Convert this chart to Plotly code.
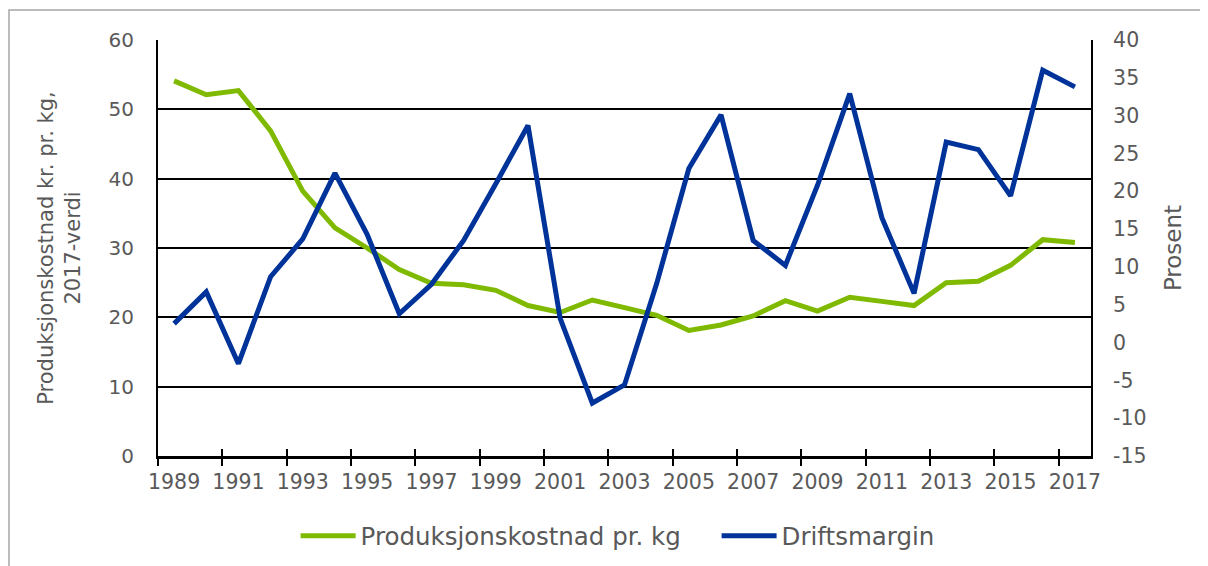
import plotly.graph_objects as go

years = [str(y) for y in range(1989, 2018)]
prod_cost = [54.1, 52.1, 52.7, 46.9, 38.2, 32.9, 30.0, 26.9, 24.9, 24.7, 23.9, 21.7, 20.7, 22.5,
             21.4, 20.3, 18.1, 18.9, 20.2, 22.4, 20.9, 22.9, 22.3, 21.7, 25.0, 25.2, 27.5, 31.2, 30.8]
drift_margin = [2.5, 6.7, -2.8, 8.7, 13.7, 22.4, 14.3, 3.8, 7.7, 13.5, 21.0, 28.7, 3.2, -8.0,
                -5.6, 7.8, 23.0, 30.1, 13.5, 10.2, 20.8, 32.9, 16.5, 6.5, 26.5, 25.5, 19.4, 36.0, 33.8]

left_ticks = [0, 10, 20, 30, 40, 50, 60]
right_ticks = list(range(-15, 45, 5))
right_ticktext = [str(v) for v in right_ticks]

GREEN = "#7FBA00"
BLUE = "#003399"
TXT = "#595959"
FONT = "DejaVu Sans"

fig = go.Figure()
fig.add_trace(go.Scatter(x=years, y=prod_cost, mode="lines", name="Produksjonskostnad pr. kg",
                         line=dict(color=GREEN, width=5), xaxis="x", yaxis="y",
                         legendwidth=351))
fig.add_trace(go.Scatter(x=years, y=drift_margin, mode="lines", name="Driftsmargin",
                         line=dict(color=BLUE, width=5), xaxis="x", yaxis="y2"))
# invisible helper trace for the inside half of the crossing tick marks
fig.add_trace(go.Scatter(x=years, y=prod_cost, mode="lines", showlegend=False, hoverinfo="skip",
                         opacity=0, line=dict(width=0), xaxis="x2", yaxis="y"))

fig.update_layout(
    width=1200, height=558,
    margin=dict(l=150, r=117, t=32, b=110, autoexpand=False),
    paper_bgcolor="white", plot_bgcolor="white",
    font=dict(family=FONT, size=20, color=TXT),
    xaxis=dict(type="category", categoryorder="array", categoryarray=years,
               range=[-0.5, 28.5], dtick=2, tickson="boundaries", tickangle=0,
               ticks="outside", ticklen=7, tickwidth=2, tickcolor="black",
               ticklabelstandoff=5, automargin=False,
               showgrid=False, showline=True, linecolor="black", linewidth=3,
               tickfont=dict(size=20.5, color=TXT), zeroline=False),
    xaxis2=dict(type="category", categoryorder="array", categoryarray=years,
                range=[-0.5, 28.5], dtick=2, tickson="boundaries", overlaying="x",
                anchor="y", side="bottom", ticks="inside", ticklen=7, tickwidth=2,
                tickcolor="black", showticklabels=False, showgrid=False, showline=False,
                zeroline=False, automargin=False),
    yaxis=dict(range=[0, 60], tickvals=left_ticks, showgrid=True, gridcolor="black", gridwidth=2,
               showline=True, linecolor="black", linewidth=2, zeroline=False, automargin=False,
               ticks="", ticklabelstandoff=18, tickfont=dict(size=20, color=TXT),
               title=dict(text="Produksjonskostnad kr. pr. kg,<br>2017-verdi",
                          font=dict(size=21, color=TXT), standoff=22)),
    yaxis2=dict(range=[-15, 40], tickvals=right_ticks, ticktext=right_ticktext,
                overlaying="y", side="right", automargin=False,
                showgrid=False, showline=True, linecolor="black", linewidth=2, zeroline=False,
                ticks="", ticklabelstandoff=16, tickfont=dict(size=20.5, color=TXT),
                title=dict(text="Prosent", font=dict(size=23, color=TXT), standoff=19)),
    legend=dict(orientation="h", x=0.4926, y=-0.192, xanchor="center", yanchor="middle",
                font=dict(size=24.5, color=TXT), itemwidth=55, bgcolor="rgba(0,0,0,0)"),
    shapes=[dict(type="rect", xref="paper", yref="paper", x0=-149/933, x1=1.3,
                 y0=-0.5, y1=1 + 30/416, line=dict(color="#A6A6A6", width=1.5),
                 fillcolor="rgba(0,0,0,0)", layer="below")],
    showlegend=True,
)

fig.write_html("out.html")
